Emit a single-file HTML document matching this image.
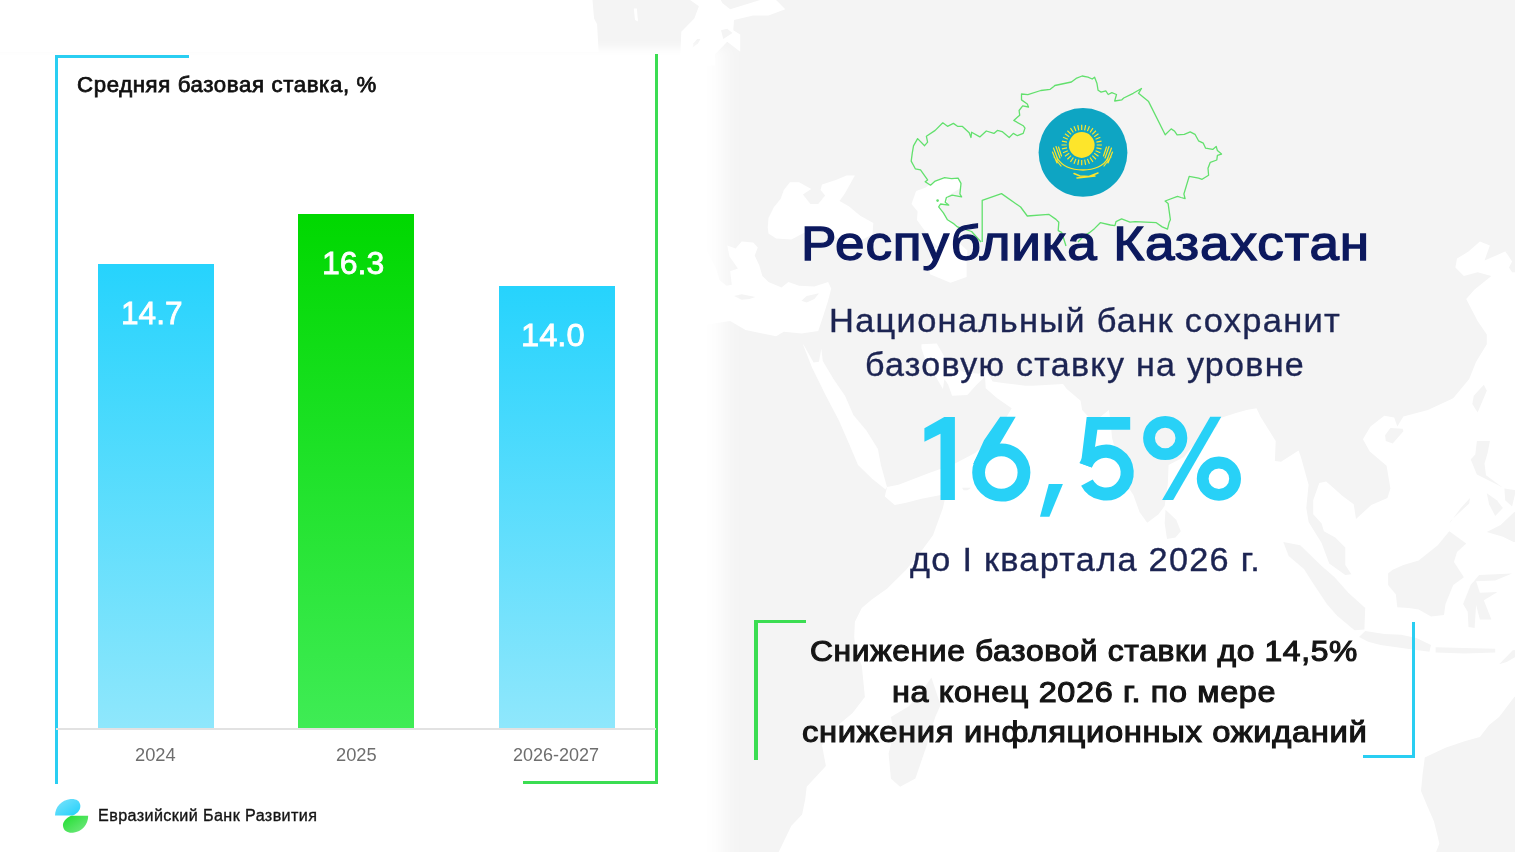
<!DOCTYPE html>
<html><head><meta charset="utf-8">
<style>
html,body{margin:0;padding:0;}
body{width:1515px;height:852px;position:relative;overflow:hidden;background:#fff;font-family:"Liberation Sans",sans-serif;}
.a{position:absolute;}
.t{position:absolute;white-space:nowrap;line-height:1;transform-origin:0 0;}
#map{position:absolute;left:0;top:0;}
</style></head><body>
<svg id="map" width="1515" height="852" viewBox="0 0 1515 852">
<defs><filter id="mb" x="-5%" y="-5%" width="110%" height="110%"><feGaussianBlur stdDeviation="0.6"/></filter></defs><g filter="url(#mb)">
<rect x="0" y="0" width="1515" height="852" fill="#f4f4f4"/>
<polygon points="-57.7,-23.8 592.5,-23.8 592.5,0.1 594.1,18.4 597.1,24.3 598.6,51.7 -57.7,51.7" fill="#fff"/>
<polygon points="633.8,8.5 635.0,19.9 638.0,21.4 636.9,8.5" fill="#fff"/>
<polygon points="680.5,51.7 681.3,31.7 694.3,18.4 698.9,6.2 685.9,-3.0 686.6,-23.8 718.8,-23.8 718.0,-4.6 722.6,3.2 730.2,9.3 744.8,4.7 760.1,0.1 774.6,-1.5 785.3,9.3 768.5,15.4 753.2,15.4 734.0,19.9 733.3,30.2 740.2,34.6 740.2,51.7 727.2,41.8 714.9,54.5 714.9,65.6 680.5,65.6" fill="#fff"/>
<polygon points="692.7,47.5 698.1,43.2 700.4,38.9 697.3,38.9 693.5,43.2" fill="#f4f4f4"/>
<polygon points="721.0,30.2 727.2,28.8 732.5,33.1 723.3,38.9" fill="#f4f4f4"/>
<polygon points="776.1,238.5 791.4,239.5 806.7,231.4 822.0,230.3 829.7,234.4 845.0,241.6 860.3,240.6 872.5,234.4 873.3,223.1 860.3,215.8 848.8,206.2 839.6,200.9 845.0,193.3 854.9,175.5 846.5,175.5 835.8,180.0 822.0,184.5 820.5,190.0 825.1,195.4 818.2,204.1 810.5,204.1 802.9,194.4 811.3,188.9 799.1,182.2 789.9,182.2 783.8,190.0 780.7,198.7 773.8,207.3 768.5,217.9 767.7,227.2 768.5,233.4" fill="#fff"/>
<polygon points="911.5,204.1 916.1,191.1 925.3,187.8 933.0,182.2 944.4,176.7 959.7,178.9 961.3,187.8 948.2,195.4 946.7,204.1 939.1,205.2 946.7,217.9 957.4,225.2 955.9,233.4 959.7,243.6 967.4,250.6 966.6,261.5 966.6,277.1 950.5,282.8 939.1,278.0 929.9,274.2 929.1,264.5 933.0,248.6 939.1,247.6 933.0,242.6 926.1,232.4 916.9,220.0 917.6,211.5" fill="#fff"/>
<polygon points="702.7,232.4 703.5,245.6 708.8,254.6 715.7,267.4 719.5,279.9 726.4,285.7 731.8,284.7 730.2,271.3 737.9,268.4 729.5,256.6 727.2,245.6 735.6,248.6 741.7,241.6 753.2,242.6 757.8,247.6 754.7,255.6 759.3,265.4 762.4,276.1 768.5,281.9 781.5,287.6 788.4,281.9 799.1,285.7 814.4,286.6 828.1,281.9 831.2,288.5 828.1,300.7 822.8,317.3 818.2,330.9 801.4,333.6 783.8,331.8 776.1,336.3 745.5,330.0 730.2,321.0 707.3,324.6 699.6,341.6 672.9,332.7 630.8,317.3 630.8,277.1 669.0,279.9 676.7,270.3 684.3,260.5 695.8,249.6 676.7,235.5 699.6,227.2" fill="#fff"/>
<polygon points="734.0,296.1 741.7,294.2 755.5,297.0 749.4,298.9 741.7,299.8" fill="#f4f4f4"/>
<polygon points="801.4,300.7 806.7,296.1 819.0,293.2 814.4,298.9 806.7,302.6" fill="#f4f4f4"/>
<polygon points="802.9,344.2 812.1,367.8 825.9,395.8 838.9,420.6 849.6,445.0 858.0,465.0 871.8,478.4 885.5,489.4 887.0,487.0 880.9,465.0 877.9,449.0 866.4,430.4 853.4,414.9 845.0,395.8 833.5,378.9 822.8,360.9 821.3,348.6 819.0,361.7 813.6,362.6 803.7,345.1" fill="#fff"/>
<polygon points="921.5,344.2 936.8,343.4 942.9,353.9 947.5,362.6 963.5,372.1 978.9,373.8 985.7,369.5 985.0,376.3 982.7,378.9 976.6,384.8 967.4,395.0 952.1,395.8 948.2,384.8 944.4,378.9 942.9,389.1 937.5,379.8 931.4,368.6 924.5,357.4 921.5,348.6" fill="#fff"/>
<polygon points="884.8,496.4 894.7,505.0 906.2,502.7 921.5,498.8 946.0,494.1 942.9,508.1 933.0,535.2 920.7,552.1 906.2,569.7 887.0,588.8 871.8,599.5 861.8,608.0 854.9,621.8 854.2,637.1 855.7,650.3 861.8,665.8 864.9,697.1 852.6,713.0 833.5,729.0 822.0,745.3 825.9,765.9 806.7,786.8 805.2,799.6 802.1,814.4 791.4,825.8 776.1,857.3 776.1,919.4 1426.4,919.4 1426.4,861.9 1434.0,857.3 1439.4,843.6 1434.0,821.4 1426.4,803.9 1421.0,791.1 1422.6,774.2 1424.8,757.6 1427.9,755.9 1445.5,747.7 1464.6,741.2 1479.9,737.1 1489.1,725.0 1499.1,717.0 1505.2,709.0 1514.3,697.1 1522.0,693.2 1548.8,693.2 1548.8,252.6 1505.2,251.6 1484.5,260.5 1489.9,245.6 1479.9,241.6 1468.5,251.6 1457.0,258.6 1455.4,267.4 1463.9,276.1 1477.6,272.2 1491.4,276.1 1474.6,289.5 1466.2,298.9 1477.6,321.0 1486.8,334.5 1486.8,344.2 1476.1,361.7 1469.2,378.9 1453.2,398.3 1427.9,409.9 1403.4,416.5 1397.3,426.4 1394.2,417.4 1384.3,415.7 1370.5,426.4 1362.9,439.3 1369.8,451.4 1386.6,465.7 1390.4,488.6 1387.4,498.0 1371.3,505.0 1356.0,519.0 1353.7,504.2 1342.2,495.7 1336.1,490.2 1326.2,481.5 1319.3,483.1 1313.2,500.3 1313.2,514.3 1321.6,523.6 1323.9,531.3 1335.3,537.5 1345.3,547.5 1345.3,565.1 1351.4,574.3 1345.3,575.1 1329.2,563.6 1321.6,542.9 1308.6,522.1 1306.3,508.1 1308.6,484.7 1300.9,457.0 1298.6,450.6 1281.0,461.8 1274.9,461.0 1275.7,441.0 1268.0,428.8 1260.4,416.5 1256.5,408.3 1246.6,409.9 1235.1,413.2 1219.8,418.2 1216.8,426.4 1204.5,434.5 1191.5,447.4 1183.9,457.0 1168.6,465.0 1167.8,483.9 1164.7,505.8 1158.6,514.3 1147.2,522.8 1139.5,512.0 1133.4,494.9 1126.5,484.7 1119.6,465.0 1112.0,437.7 1110.4,419.8 1108.9,409.9 1093.6,422.3 1082.1,409.9 1080.6,400.8 1066.8,389.1 1063.0,384.0 1032.4,385.7 1025.5,385.7 1004.9,383.2 992.6,381.5 985.7,369.5 985.0,376.3 985.7,388.2 997.2,398.3 1011.7,408.3 1001.8,424.7 995.7,436.9 987.3,442.6 975.0,453.0 953.6,464.2 929.1,472.9 898.5,484.7 887.0,487.0" fill="#fff"/>
<polygon points="931.4,677.5 940.6,705.0 935.2,717.0 926.8,745.3 915.4,778.4 900.1,786.8 890.9,778.4 888.6,753.5 893.9,733.1 890.9,717.0 908.5,706.6 920.7,693.2" fill="#f4f4f4"/>
<polygon points="1165.5,509.7 1176.2,519.7 1180.8,531.3 1175.5,537.5 1167.0,539.0 1164.7,523.6" fill="#f4f4f4"/>
<polygon points="1283.3,542.1 1300.2,545.2 1321.6,565.9 1334.6,577.3 1348.3,592.7 1365.2,608.0 1364.4,629.4 1354.5,630.2 1336.9,615.6 1326.9,604.1 1313.2,583.5 1304.0,568.9 1288.7,555.9" fill="#f4f4f4"/>
<polygon points="1359.1,637.1 1365.2,631.0 1384.3,634.1 1401.1,634.8 1416.4,637.9 1431.0,644.9 1429.4,651.8 1407.2,648.7 1380.5,644.9 1368.2,641.8" fill="#f4f4f4"/>
<polygon points="1435.6,647.2 1464.6,647.9 1495.2,648.7 1495.2,652.6 1464.6,653.4 1435.6,652.6" fill="#f4f4f4"/>
<polygon points="1499.1,664.2 1512.8,650.3 1528.1,649.5 1506.7,661.9" fill="#f4f4f4"/>
<polygon points="1388.1,573.5 1392.7,569.7 1403.4,565.1 1418.7,560.5 1437.8,545.2 1449.3,531.3 1466.2,543.6 1457.0,552.1 1453.9,562.0 1463.9,577.3 1453.2,585.0 1445.5,604.1 1444.0,614.9 1431.0,616.4 1418.7,609.5 1408.8,608.0 1397.3,607.2 1395.8,594.2 1388.1,585.0" fill="#f4f4f4"/>
<polygon points="1468.5,627.1 1467.7,611.8 1463.1,604.1 1470.7,585.0 1479.2,575.1 1512.1,573.5 1495.2,580.4 1476.1,581.2 1479.9,592.7 1497.5,591.9 1483.8,600.3 1491.4,619.5 1479.9,619.5 1476.1,604.9 1474.6,627.9" fill="#f4f4f4"/>
<polygon points="1476.9,441.0 1489.9,441.0 1487.6,453.0 1484.5,463.4 1486.0,475.2 1502.9,487.8 1497.5,484.7 1476.9,474.5 1470.7,459.4 1475.3,454.6" fill="#f4f4f4"/>
<polygon points="1486.8,532.1 1500.6,525.1 1514.3,512.0 1525.8,515.9 1525.8,542.1 1513.6,542.1 1502.9,536.7" fill="#f4f4f4"/>
<polygon points="1486.8,493.3 1496.8,500.3 1502.9,508.1 1495.2,515.9 1489.1,504.2" fill="#f4f4f4"/>
<polygon points="1504.4,488.6 1515.9,490.2 1512.1,506.6 1505.2,500.3" fill="#f4f4f4"/>
<polygon points="1450.9,520.5 1469.2,503.4 1470.0,498.0 1460.8,508.1 1449.3,523.6" fill="#f4f4f4"/>
<polygon points="1472.3,404.1 1477.6,412.4 1486.8,390.8 1483.8,384.8 1473.8,395.8" fill="#f4f4f4"/>
<polygon points="1385.1,435.3 1390.4,428.0 1402.7,428.8 1403.4,431.2 1392.7,443.4 1385.8,441.0" fill="#f4f4f4"/>
<polygon points="1505.2,251.6 1508.2,255.6 1512.1,261.5 1509.0,267.4 1512.1,272.2 1525.8,272.2 1525.8,248.6" fill="#f4f4f4"/>
<polygon points="962.0,487.8 971.2,487.8 967.4,490.2 963.5,490.2" fill="#f4f4f4"/>
</g>
<defs><filter id="pb" x="-50%" y="-50%" width="200%" height="200%"><feGaussianBlur stdDeviation="10 4"/></filter></defs>
<rect x="-200" y="48" width="923" height="1000" fill="#fff" filter="url(#pb)"/>
</svg>

<svg class="a" style="left:0;top:0" width="1515" height="852" viewBox="0 0 1515 852">
<g fill="none" stroke="#62e06d" stroke-width="1.3" stroke-linejoin="round">
<path d="M981,242 L971.6,231.5 L957.5,226.9 L954,223.9 L947.5,219.8 L943.4,212.8 L938.7,206.9 L940.5,204 L948.7,205.1 L945.2,202.2 L946.4,197.5 L952.2,195.2 L961.6,196.9 L959.9,194 L961,183.4 L958.1,178.1 L951.6,178.7 L944.6,177.6 L935.2,181.1 L930.5,185.2 L925.2,181.7 L927.6,179.9 L920.5,169.9 L915.3,168.8 L911.2,161.1 L912.3,152.9 L913.5,145.9 L917.6,138.6 L924.6,145.7 L927.6,142.2 L926.4,136.3 L935.2,130.4 L942.8,122.8 L947.5,126.3 L953.4,123.4 L957.5,126.3 L962.2,126.3 L969.2,132.8 L971,137.5 L971.6,132.2 L979.8,136.9 L986.3,131 L993.9,133.4 L997.4,130.4 L1002.1,131.6 L1009.2,137.5 L1013.3,133.4 L1017.4,135.7 L1023.2,133.4 L1025,128.1 L1023.2,125.7 L1013.8,120.4 L1019.7,115.2 L1019.1,110.5 L1022.7,105.8 L1028.5,107 L1027.3,104 L1021.5,99.9 L1021.5,94 L1027.9,94.6 L1040.8,90.5 L1050.2,89.3 L1053.8,86.4 L1054.8,85.5 L1071.4,82 L1076.1,78.4 L1082.1,76 L1088,77.2 L1092.2,79 L1094.6,77.2 L1096.9,83.2 L1098.1,90.3 L1101.1,92.1 L1105.8,90.9 L1108.2,94.5 L1111.8,92.7 L1116.5,94.5 L1114.7,101 L1121.9,99.8 L1123.7,98 L1133.2,93.3 L1141.5,88.5 L1138.5,93.3 L1148.6,101.6 L1165.2,134.8 L1171.2,128.9 L1174.7,131.3 L1177.1,134.8 L1184.3,134.3 L1190.2,131.9 L1195,134.3 L1198.5,140.8 L1203.3,143.2 L1205.6,148.2 L1212.7,149.4 L1216.2,146.5 L1217.4,150.6 L1221.5,154.1 L1217.4,155.3 L1216.8,160 L1210.3,162.3 L1208,168.2 L1208.6,175.2 L1202.1,179.3 L1198.6,178.1 L1189.2,176.4 L1183.9,194 L1185.1,198.7 L1181,197.5 L1177.5,196.3 L1165.1,201 L1168.1,203.4 L1170.4,219.8 L1169.2,222.2 L1167.5,229.2 L1162.2,226.9 L1156.3,222.7 L1135.2,221.6 L1130,222.2 L1121.6,218.8 L1116,221.6 L1114.9,225.6 L1110.4,225 L1100.3,222.7 L1094.7,228.4 L1089.1,232.9 L1083.5,236.2 L1078,242"/>
<path d="M982.2,242 L982.2,200.4 L1001.5,193.6 L1020.6,207 L1027.3,216 L1048.7,214.3 L1056,219.4 L1058.8,222.2 L1058.2,230.6 L1061.6,232.3 L1063.8,239 L1066,246"/>
</g>
<circle cx="937.6" cy="200.6" r="1.3" fill="#62e06d"/>
<circle cx="1083" cy="152.4" r="44.4" fill="#0ea5c3"/>
<circle cx="1081.7" cy="145" r="12.9" fill="#fde52b"/>
<path d="M1096.70,145.00L1101.90,145.00 M1096.41,147.93L1101.51,148.94 M1095.56,150.74L1100.36,152.73 M1094.17,153.33L1098.50,156.22 M1092.31,155.61L1095.98,159.28 M1090.03,157.47L1092.92,161.80 M1087.44,158.86L1089.43,163.66 M1084.63,159.71L1085.64,164.81 M1081.70,160.00L1081.70,165.20 M1078.77,159.71L1077.76,164.81 M1075.96,158.86L1073.97,163.66 M1073.37,157.47L1070.48,161.80 M1071.09,155.61L1067.42,159.28 M1069.23,153.33L1064.90,156.22 M1067.84,150.74L1063.04,152.73 M1066.99,147.93L1061.89,148.94 M1066.70,145.00L1061.50,145.00 M1066.99,142.07L1061.89,141.06 M1067.84,139.26L1063.04,137.27 M1069.23,136.67L1064.90,133.78 M1071.09,134.39L1067.42,130.72 M1073.37,132.53L1070.48,128.20 M1075.96,131.14L1073.97,126.34 M1078.77,130.29L1077.76,125.19 M1081.70,130.00L1081.70,124.80 M1084.63,130.29L1085.64,125.19 M1087.44,131.14L1089.43,126.34 M1090.03,132.53L1092.92,128.20 M1092.31,134.39L1095.98,130.72 M1094.17,136.67L1098.50,133.78 M1095.56,139.26L1100.36,137.27 M1096.41,142.07L1101.51,141.06" stroke="#fde52b" stroke-width="1.2"/>
<g fill="none" stroke="#fde52b" stroke-linecap="round">
<path d="M1057,158 C1062,166 1072,170 1083,170 C1094,170 1104,166 1108,158" stroke-width="1.3"/>
<path d="M1053.5,148 L1058,160 M1056,146.5 L1060,158 M1058.5,147 L1061.5,156 M1052.5,152 L1057,163 M1054,157 L1061,166" stroke-width="1.2"/>
<path d="M1111.5,148 L1107,160 M1109,146.5 L1105,158 M1106.5,147 L1103.5,156 M1112.5,152 L1108,163 M1111,157 L1104,166" stroke-width="1.2"/>
<path d="M1074,173.5 L1080,176 L1089,176.5 L1098,173 M1077,178 L1095,176" stroke-width="1.5"/>
</g>
</svg>
<!-- left chart frame -->
<div class="a" style="left:54.5px;top:54.5px;width:134.5px;height:3px;background:#29cef2"></div>
<div class="a" style="left:54.5px;top:54.5px;width:3px;height:729px;background:#29cef2"></div>
<div class="a" style="left:654.8px;top:54px;width:3px;height:729.6px;background:#3bdd52"></div>
<div class="a" style="left:522.5px;top:780.8px;width:135.3px;height:2.8px;background:#3bdd52"></div>

<!-- bars -->
<div class="a" style="left:98px;top:264px;width:116px;height:464.5px;background:linear-gradient(#26d3fd,#8fe7fc)"></div>
<div class="a" style="left:298px;top:214px;width:116px;height:514.5px;background:linear-gradient(#00d800,#3fec55)"></div>
<div class="a" style="left:499px;top:286.4px;width:115.7px;height:442.1px;background:linear-gradient(#26d3fd,#8fe7fc)"></div>
<div class="a" style="left:56px;top:728.3px;width:600px;height:1.4px;background:#e2e2e2"></div>

<!-- logo icon -->
<svg class="a" style="left:0;top:0" width="120" height="852" viewBox="0 0 120 852">
<defs>
<linearGradient id="lgb" x1="0" y1="0" x2="1" y2="1"><stop offset="0" stop-color="#7fe3fb"/><stop offset="1" stop-color="#1fd0fb"/></linearGradient>
<linearGradient id="lgg" x1="0" y1="0" x2="1" y2="1"><stop offset="0" stop-color="#1ede2e"/><stop offset="1" stop-color="#7ae987"/></linearGradient>
</defs>
<path d="M55,815.5 L73,815.5 C78.5,813 80.8,809 80.3,805 C79.8,800.5 75.5,798.5 70.5,799 C61.5,800 55,807 55,815.5 Z" fill="url(#lgb)"/>
<path d="M88.2,815.7 L71,815.7 C66,818 62.5,822 63,826 C63.5,831 68,833.2 73,832.7 C82,831.7 88.2,824.5 88.2,815.7 Z" fill="url(#lgg)"/>
</svg>

<svg class="a" style="left:0;top:0" width="1515" height="852" viewBox="0 0 1515 852">
<g fill="#28d1f7">
<path d="M944.3,416.9 L954.9,416.9 L954.9,500 L940.5,500 L940.5,433.8 L924.4,441.7 L924.4,428.2 Z"/>
<path d="M1000.2,416.7 L1015.7,416.7 L999.5,444.3 L989.9,452.8 L980,464.7 L973.2,464 L984,440.3 Z"/>
<path d="M1048.8,484.1 L1062.9,484.1 L1049.4,516.7 L1040,516.7 Z"/>
<path d="M1086.7,416.9 L1130.2,416.9 L1130.2,429.8 L1097.4,429.8 L1095,447 L1093.5,461 L1093,461 L1091.85,467.5 L1079.5,463 L1081.3,461 Z"/>
<path d="M1210.2,416.7 L1221.3,416.7 L1173.2,500 L1162.1,500 Z"/>
</g>
<g fill="none" stroke="#28d1f7">
<circle cx="1001.3" cy="472.5" r="22.7" stroke-width="12.8"/>
<path d="M1085.7,465.3 A21.4,21.4 0 1 1 1086.9,482.6" stroke-width="13.1"/>
<ellipse cx="1165.2" cy="438" rx="16.2" ry="16.2" stroke-width="11.8"/>
<ellipse cx="1218.9" cy="478.7" rx="16.2" ry="16.2" stroke-width="11.8"/>
</g>
</svg>


<div class="a" style="left:754px;top:620.3px;width:52px;height:2.9px;background:#3bdd52"></div>
<div class="a" style="left:754px;top:620.3px;width:3.8px;height:139.7px;background:#3bdd52"></div>
<div class="a" style="left:1412px;top:622.2px;width:3.4px;height:136.1px;background:#29cef2"></div>
<div class="a" style="left:1363.2px;top:755.2px;width:52.2px;height:3.1px;background:#29cef2"></div>

<div class="t" id="ctitle" style="left:76.50px;top:74.90px;font-size:21.50px;color:#111111;font-weight:normal;-webkit-text-stroke:0.75px #111111;letter-spacing:0.6px;transform:scaleX(1.0335)">Средняя базовая ставка, %</div>
<div class="t" id="lab147" style="left:121.40px;top:297.40px;font-size:32.00px;color:#fff;font-weight:normal;-webkit-text-stroke:0.8px #fff;transform:scaleX(0.9871)">14.7</div>
<div class="t" id="lab163" style="left:321.80px;top:246.90px;font-size:32.00px;color:#fff;font-weight:normal;-webkit-text-stroke:0.8px #fff;transform:scaleX(1.0003)">16.3</div>
<div class="t" id="lab140" style="left:521.20px;top:319.00px;font-size:32.00px;color:#fff;font-weight:normal;-webkit-text-stroke:0.8px #fff;transform:scaleX(1.0206)">14.0</div>
<div class="t" id="x2024" style="left:135.35px;top:746.60px;font-size:17.50px;color:#6e6e6e;font-weight:normal;transform:scaleX(1.0449)">2024</div>
<div class="t" id="x2025" style="left:336.00px;top:746.60px;font-size:17.50px;color:#6e6e6e;font-weight:normal;transform:scaleX(1.0450)">2025</div>
<div class="t" id="x2627" style="left:513.25px;top:746.60px;font-size:17.50px;color:#6e6e6e;font-weight:normal;transform:scaleX(1.0282)">2026-2027</div>
<div class="t" id="logo" style="left:97.50px;top:808.20px;font-size:16.00px;color:#141414;font-weight:normal;-webkit-text-stroke:0.35px #141414;letter-spacing:0.4px;transform:scaleX(1.0084)">Евразийский Банк Развития</div>
<div class="t" id="t5" style="left:800.50px;top:219.50px;font-size:47.50px;color:#0c195e;font-weight:normal;-webkit-text-stroke:1.3px #0c195e;letter-spacing:0.8px;transform:scaleX(1.1177)">Республика Казахстан</div>
<div class="t" id="t6" style="left:828.65px;top:304.90px;font-size:32.50px;color:#1c2452;font-weight:normal;-webkit-text-stroke:0.35px #1c2452;letter-spacing:1.2px;transform:scaleX(1.0604)">Национальный банк сохранит</div>
<div class="t" id="t7" style="left:865.30px;top:348.50px;font-size:32.50px;color:#1c2452;font-weight:normal;-webkit-text-stroke:0.35px #1c2452;letter-spacing:1.2px;transform:scaleX(1.0486)">базовую ставку на уровне</div>
<div class="t" id="t9" style="left:909.50px;top:543.60px;font-size:32.50px;color:#1c2452;font-weight:normal;-webkit-text-stroke:0.35px #1c2452;letter-spacing:1.2px;transform:scaleX(1.0550)">до I квартала 2026 г.</div>
<div class="t" id="t10" style="left:809.65px;top:635.90px;font-size:29.50px;color:#151515;font-weight:normal;-webkit-text-stroke:1.1px #151515;letter-spacing:0.6px;transform:scaleX(1.0783)">Снижение базовой ставки до 14,5%</div>
<div class="t" id="t11" style="left:892.35px;top:676.90px;font-size:29.50px;color:#151515;font-weight:normal;-webkit-text-stroke:1.1px #151515;letter-spacing:0.6px;transform:scaleX(1.0971)">на конец 2026 г. по мере</div>
<div class="t" id="t12" style="left:801.95px;top:716.80px;font-size:29.50px;color:#151515;font-weight:normal;-webkit-text-stroke:1.1px #151515;letter-spacing:0.6px;transform:scaleX(1.1090)">снижения инфляционных ожиданий</div>
</body></html>
